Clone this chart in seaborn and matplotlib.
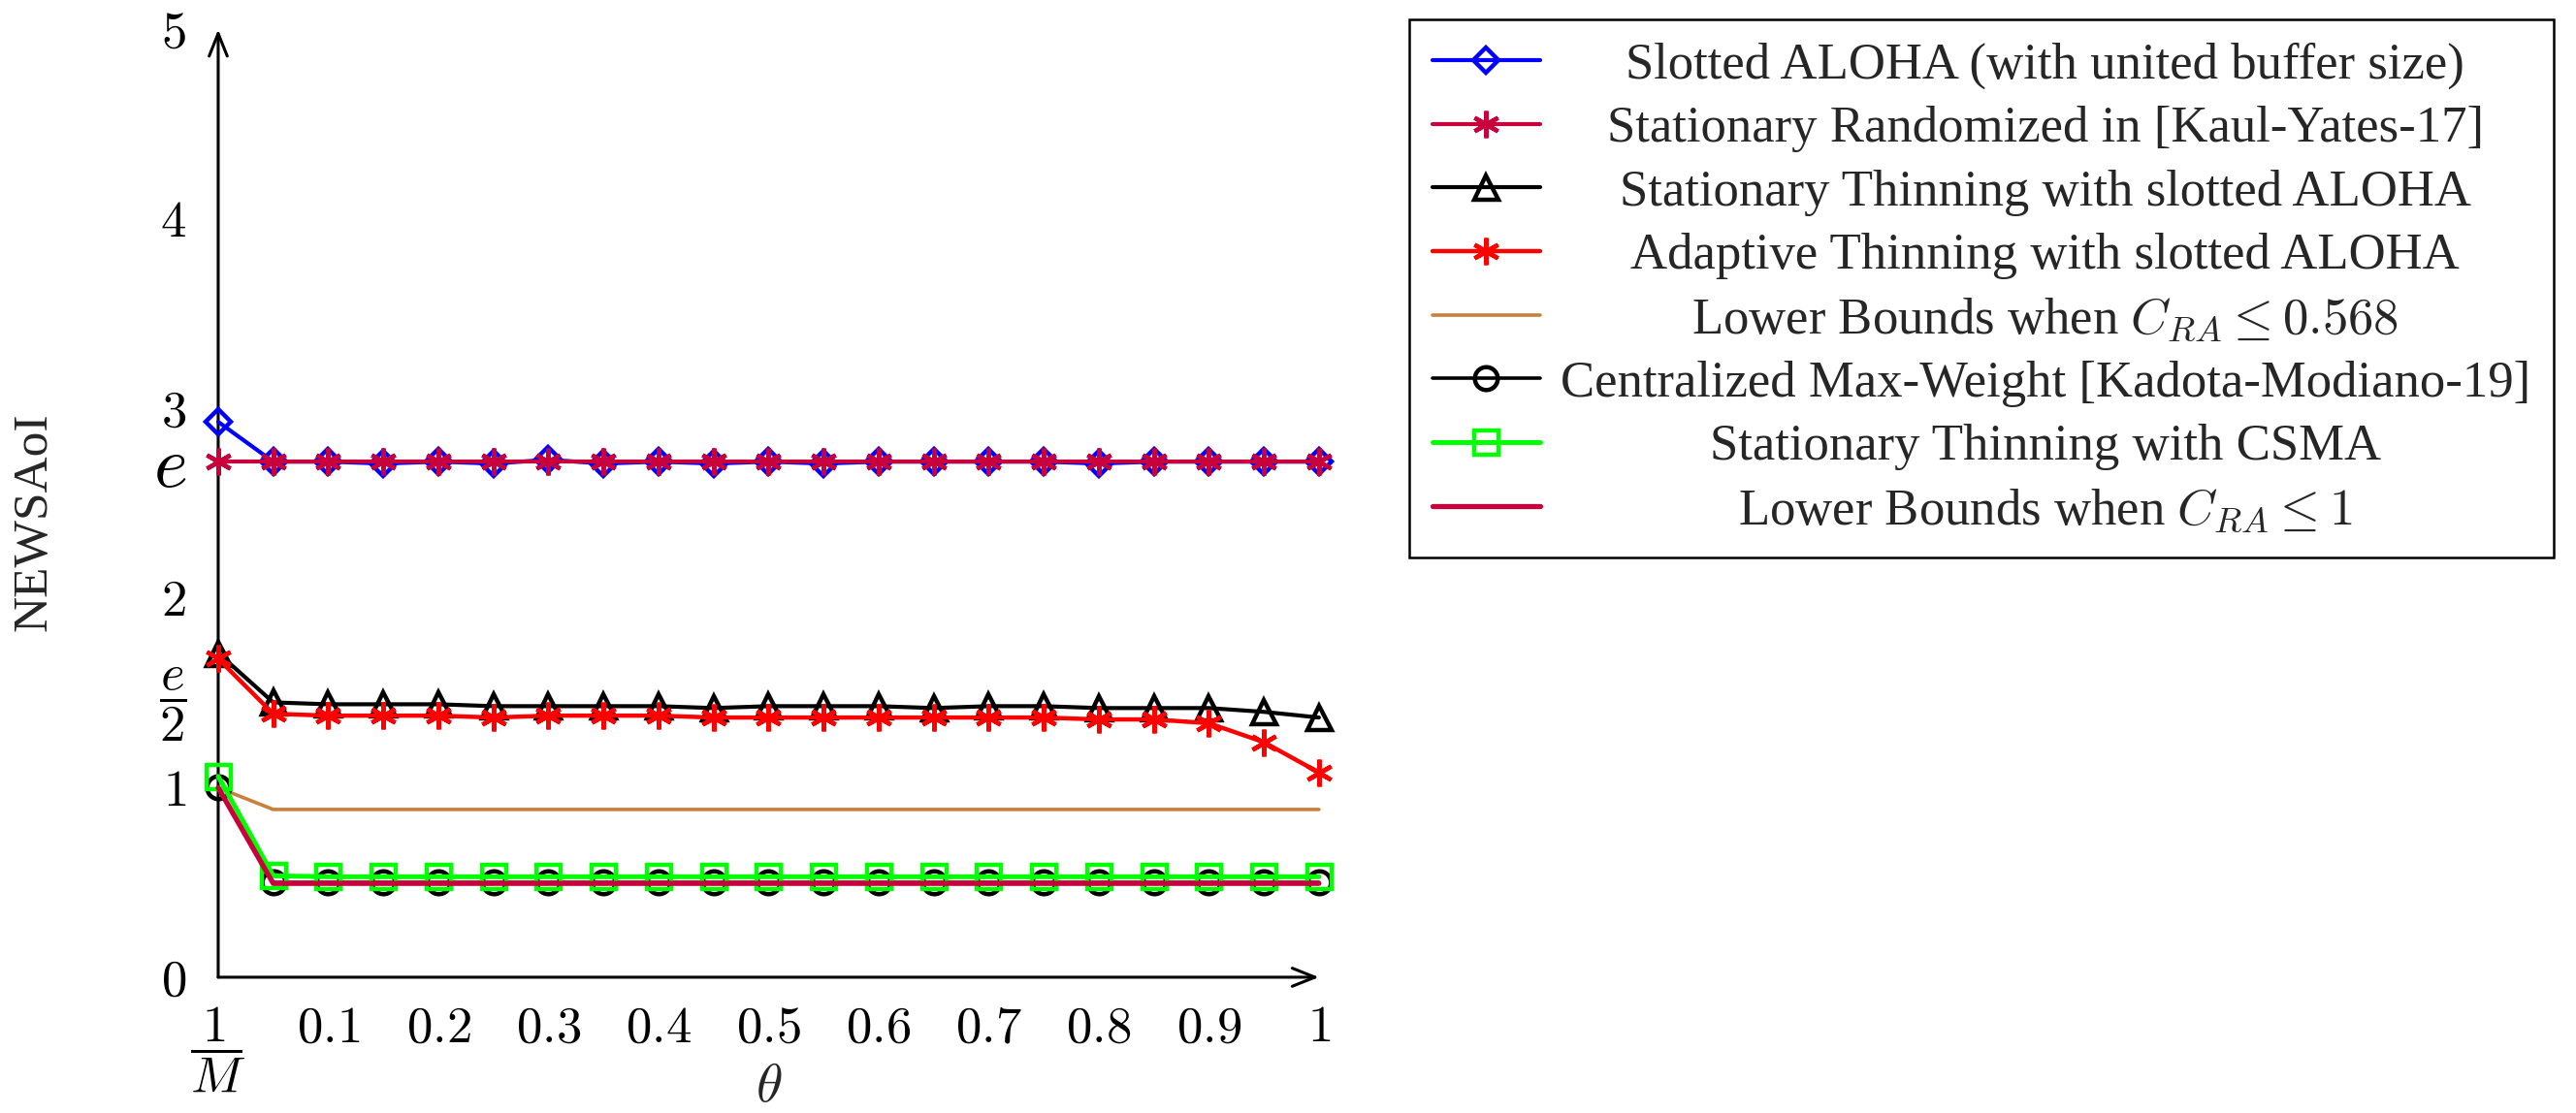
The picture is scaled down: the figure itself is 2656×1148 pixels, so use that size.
import matplotlib
matplotlib.use("Agg")
import matplotlib.pyplot as plt
import matplotlib.transforms as mtransforms
import seaborn as sns
import numpy as np

# theta values; the first point is theta = 1/M (drawn at the origin)
theta = [0.0, 0.05, 0.1, 0.15, 0.2, 0.25, 0.3, 0.35, 0.4, 0.45, 0.5,
         0.55, 0.6, 0.65, 0.7, 0.75, 0.8, 0.85, 0.9, 0.95, 1.0]

xtick_pos = [0.0, 0.1, 0.2, 0.3, 0.4, 0.5, 0.6, 0.7, 0.8, 0.9, 1.0]
xtick_labels = [r"$\dfrac{1}{M}$", "$0.1$", "$0.2$", "$0.3$", "$0.4$", "$0.5$",
                "$0.6$", "$0.7$", "$0.8$", "$0.9$", "$1$"]
ytick_pos = [0, 1, np.e / 2, 2, np.e, 3, 4, 5]
ytick_labels = ["$0$", "$1$", r"$\dfrac{e}{2}$", "$2$", "$e$", "$3$", "$4$", "$5$"]
grid_levels = [1, 2, 3, 4, 5]

aloha_buffer = [2.93, 2.72, 2.72, 2.71, 2.72, 2.71, 2.73, 2.71, 2.72, 2.71, 2.72,
                2.71, 2.72, 2.72, 2.72, 2.72, 2.71, 2.72, 2.72, 2.72, 2.72]
randomized_ky17 = [2.72, 2.72, 2.72, 2.72, 2.72, 2.72, 2.72, 2.72, 2.72, 2.72, 2.72,
                   2.72, 2.72, 2.72, 2.72, 2.72, 2.72, 2.72, 2.72, 2.72, 2.72]
thinning_aloha = [1.71, 1.45, 1.44, 1.44, 1.44, 1.43, 1.43, 1.43, 1.43, 1.42, 1.43,
                  1.43, 1.43, 1.42, 1.43, 1.43, 1.42, 1.42, 1.42, 1.40, 1.37]
adaptive_aloha = [1.68, 1.39, 1.38, 1.38, 1.38, 1.37, 1.38, 1.38, 1.38, 1.37, 1.37,
                  1.37, 1.37, 1.37, 1.37, 1.37, 1.36, 1.36, 1.34, 1.24, 1.08]
lb_0568 = [1.0, 0.885, 0.885, 0.885, 0.885, 0.885, 0.885, 0.885, 0.885, 0.885, 0.885,
           0.885, 0.885, 0.885, 0.885, 0.885, 0.885, 0.885, 0.885, 0.885, 0.885]
max_weight = [1.0, 0.5, 0.5, 0.5, 0.5, 0.5, 0.5, 0.5, 0.5, 0.5, 0.5,
              0.5, 0.5, 0.5, 0.5, 0.5, 0.5, 0.5, 0.5, 0.5, 0.5]
thinning_csma = [1.06, 0.535, 0.53, 0.53, 0.53, 0.53, 0.53, 0.53, 0.53, 0.53, 0.53,
                 0.53, 0.53, 0.53, 0.53, 0.53, 0.53, 0.53, 0.53, 0.53, 0.53]
lb_1 = [1.0, 0.495, 0.495, 0.495, 0.495, 0.495, 0.495, 0.495, 0.495, 0.495, 0.495,
        0.495, 0.495, 0.495, 0.495, 0.495, 0.495, 0.495, 0.495, 0.495, 0.495]

sns.set_theme(style="white")
plt.rcParams["font.family"] = ["Liberation Serif", "DejaVu Serif"]
plt.rcParams["mathtext.fontset"] = "cm"

fig = plt.figure(figsize=(13.28, 5.74), dpi=200)
ax = fig.add_axes([0.0847, 0.1220, 0.4273, 0.8515])

star = (6, 2, 0)
series = [
    (aloha_buffer, "Slotted ALOHA (with united buffer size)", "#0000ff", "D", 6.5, 1.5),
    (randomized_ky17, "Stationary Randomized in [Kaul-Yates-17]", "#c8003c", star, 10, 1.5),
    (thinning_aloha, "Stationary Thinning with slotted ALOHA", "black", "^", 9, 1.5),
    (adaptive_aloha, "Adaptive Thinning with slotted ALOHA", "#ff0000", star, 10, 1.6),
    (lb_0568, r"Lower Bounds when $C_{RA} \leq 0.568$", "#c8803a", None, 0, 1.3),
    (max_weight, "Centralized Max-Weight [Kadota-Modiano-19]", "black", "o", 8.5, 1.3),
    (thinning_csma, "Stationary Thinning with CSMA", "#00ff00", "s", 9, 1.8),
    (lb_1, r"Lower Bounds when $C_{RA} \leq 1$", "#c8003c", None, 0, 1.9),
]

for vals, name, col, mk, ms, lw in series:
    sns.lineplot(x=theta, y=vals, ax=ax, color=col, lw=lw, label=name,
                 marker=mk, markersize=ms, markerfacecolor="none",
                 markeredgecolor=col, markeredgewidth=1.6, clip_on=False,
                 zorder=3)

ax.set_xlim(0, 1)
ax.set_ylim(0, 5)
for s in ax.spines.values():
    s.set_visible(False)

# axis lines with arrow heads
arrow = dict(arrowstyle="->,head_length=0.7,head_width=0.28", lw=1.1, color="black",
             shrinkA=0, shrinkB=0)
ax.annotate("", xy=(1, 0), xytext=(0, 0), xycoords="axes fraction", arrowprops=arrow,
            zorder=2)
ax.annotate("", xy=(0, 1), xytext=(0, 0), xycoords="axes fraction", arrowprops=arrow,
            zorder=2)

ax.set_xticks(xtick_pos)
ax.set_xticklabels(xtick_labels)
ax.set_yticks(ytick_pos)
ax.set_yticklabels(ytick_labels)
ax.set_yticks(grid_levels, minor=True)
ax.tick_params(axis="x", which="major", direction="inout", length=7.5, width=0.55,
               color="#999999", pad=6.8, labelsize=19, labelcolor="black")
ax.tick_params(axis="y", which="major", direction="inout", length=8.6, width=0.55,
               color="#999999", pad=7.5, labelsize=19, labelcolor="black")
ax.tick_params(axis="y", which="minor", length=0)
ylabels = ax.get_yticklabels()
ylabels[4].set_fontsize(27)
# the e/2 fraction sits a little higher in the original
shift = mtransforms.ScaledTranslation(0, 12 / 72, fig.dpi_scale_trans)
ylabels[2].set_transform(ylabels[2].get_transform() + shift)
ax.grid(False)
ax.grid(axis="y", which="minor", color="#bdbdbd", lw=0.6, linestyle=(0, (9, 11)),
        zorder=0)

ax.set_xlabel(r"$\theta$", fontsize=20)
ax.xaxis.set_label_coords(0.5, -0.09)
ax.set_ylabel("")
fig.text(0.0132, 0.531, "NEWSAoI", rotation=90, ha="center", va="center", fontsize=18.5)

leg = ax.legend(loc="upper left", bbox_to_anchor=(0.5471, 0.9826),
                bbox_transform=fig.transFigure, borderaxespad=0, fontsize=19,
                handlelength=2.1, handletextpad=0.4, borderpad=0.45,
                labelspacing=0.33, fancybox=False, framealpha=1, edgecolor="black")
leg.get_frame().set_linewidth(0.9)

# center the legend labels as pgfplots does
fig.canvas.draw()
r = fig.canvas.get_renderer()
texts = leg.get_texts()
ws = [t.get_window_extent(r).width for t in texts]
wmax = max(ws)
for t, w in zip(texts, ws):
    t.set_x((wmax - w) / 2)

fig.savefig("out.png", dpi=200)
